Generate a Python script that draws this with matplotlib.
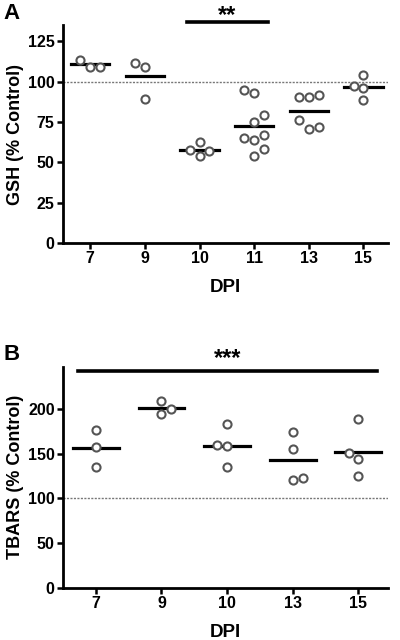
import numpy as np
import matplotlib
matplotlib.use('Agg')
import matplotlib.pyplot as plt

plt.rcParams['font.family'] = ['Liberation Sans', 'DejaVu Sans']
plt.rcParams['font.weight'] = 'bold'

# Panel A: GSH (% control)
gsh_dpi = ['7', '9', '10', '11', '13', '15']
gsh_vals = [
    [113.6, 109.1, 109.1],
    [111.6, 109.1, 89.3],
    [57.9, 62.4, 57.2, 54.1],
    [95.0, 93.0, 79.1, 75.0, 64.9, 64.0, 67.1, 54.1, 58.1],
    [90.3, 90.3, 91.9, 76.0, 70.7, 71.9],
    [104.3, 97.5, 96.1, 88.8],
]
# horizontal slot of each point (layout only)
gsh_slots = [
    [-1, 0, 1],
    [-1, 0, 0],
    [-1, 0, 1, 0],
    [-1, 0, 1, 0, -1, 0, 1, 0, 1],
    [-1, 0, 1, -1, 0, 1],
    [0, -1, 0, 0],
]

# Panel B: TBARS (% control)
tbars_dpi = ['7', '9', '10', '13', '15']
tbars_vals = [
    [175.8, 157.2, 134.9],
    [208.6, 199.3, 194.4],
    [182.5, 159.9, 158.0, 134.9],
    [174.0, 155.4, 120.8, 123.0],
    [188.8, 150.9, 143.5, 125.3],
]
tbars_slots = [
    [0, 0, 0],
    [0, 1, 0],
    [0, -1, 0, 0],
    [0, 0, 0, 1],
    [0, -1, 0, 0],
]


def draw_panel(ax, labels, vals, slots, slot_w, ylim, yticks, ylabel):
    for i, (v, s) in enumerate(zip(vals, slots)):
        xs = i + np.array(s) * slot_w
        ax.scatter(xs, v, s=34, facecolor='white', edgecolor='#555555',
                   linewidth=1.5, zorder=3)
        m = np.mean(v)
        ax.plot([i - 0.35, i + 0.35], [m, m], color='black', lw=2.3, zorder=2)
    ax.axhline(100, color='#777777', lw=1.0, ls=(0, (1.5, 1.0)), zorder=1)
    ax.set_xlim(-0.5, len(labels) - 0.55)
    ax.set_ylim(*ylim)
    ax.set_xticks(range(len(labels)))
    ax.set_xticklabels(labels)
    ax.set_yticks(yticks)
    for sp in ['top', 'right']:
        ax.spines[sp].set_visible(False)
    for sp in ['left', 'bottom']:
        ax.spines[sp].set_linewidth(2.0)
    ax.tick_params(axis='both', width=1.8, length=4, labelsize=11.5, pad=2)
    ax.set_xlabel('DPI', fontsize=13.5, fontweight='bold', labelpad=9)
    ax.set_ylabel(ylabel, fontsize=13, fontweight='bold', labelpad=3)


fig = plt.figure(figsize=(4.0, 6.4), dpi=100)
axA = fig.add_axes([0.1575, 0.6203, 0.8125, 0.3406])
axB = fig.add_axes([0.1575, 0.0817, 0.8125, 0.3453])

draw_panel(axA, gsh_dpi, gsh_vals, gsh_slots, 0.18, (0, 135),
           [0, 25, 50, 75, 100, 125], 'GSH (% Control)')
draw_panel(axB, tbars_dpi, tbars_vals, tbars_slots, 0.15, (0, 247),
           [0, 50, 100, 150, 200], 'TBARS (% Control)')

# significance bars
axA.plot([1.77, 3.26], [136.6, 136.6], color='black', lw=2.6, clip_on=False)
axA.text(2.5, 141, '**', ha='center', va='center', fontsize=17, fontweight='bold')
axB.plot([-0.27, 4.29], [242, 242], color='black', lw=2.6, clip_on=False)
axB.text(2.0, 256, '***', ha='center', va='center', fontsize=17, fontweight='bold')

fig.text(0.008, 0.995, 'A', fontsize=16, fontweight='bold', va='top')
fig.text(0.008, 0.462, 'B', fontsize=16, fontweight='bold', va='top')

fig.savefig('out.png', dpi=100)
